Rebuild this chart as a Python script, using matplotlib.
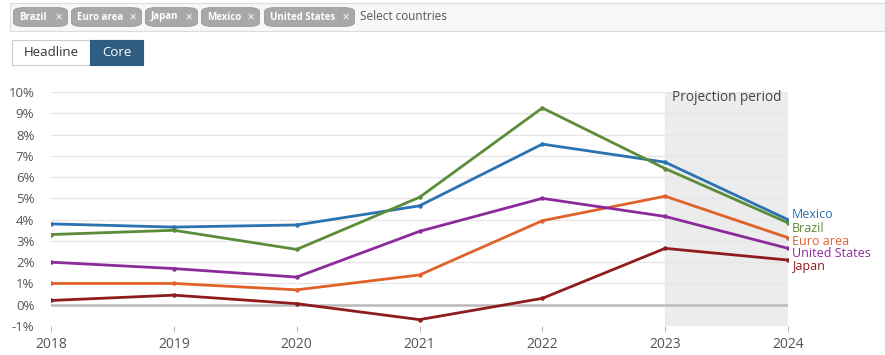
import matplotlib.pyplot as plt
from matplotlib.patches import FancyBboxPatch, Rectangle

# data (core inflation, %)
years = [2018, 2019, 2020, 2021, 2022, 2023, 2024]
mexico = [3.8, 3.65, 3.75, 4.65, 7.55, 6.7, 4.0]
brazil = [3.3, 3.5, 2.6, 5.05, 9.25, 6.4, 3.85]
euro_area = [1.0, 1.0, 0.7, 1.4, 3.95, 5.1, 3.15]
united_states = [2.0, 1.7, 1.3, 3.45, 5.0, 4.15, 2.65]
japan = [0.2, 0.45, 0.05, -0.7, 0.3, 2.65, 2.1]

series = [
    ('Mexico', mexico, '#2a72b0'),
    ('Brazil', brazil, '#5b8c3a'),
    ('Euro area', euro_area, '#e0622a'),
    ('United States', united_states, '#8c2a9c'),
    ('Japan', japan, '#8e1c1c'),
]
chips = ['Brazil', 'Euro area', 'Japan', 'Mexico', 'United States']
yticks = list(range(-1, 11))

W, H = 885, 355
fig = plt.figure(figsize=(W / 100, H / 100), dpi=100)
fig.patch.set_facecolor('white')

def fx(px):
    return px / W

def fy(py):
    return 1 - py / H

# top selector bar
fig.patches.append(Rectangle((fx(10), fy(31)), fx(875), (28) / H, transform=fig.transFigure,
                             facecolor='#f7f7f7', edgecolor='#dddddd', lw=0.8))
chip_x = [(13, 68), (71, 142), (145, 198), (201, 260), (264, 355)]
for name, (x0, x1) in zip(chips, chip_x):
    fig.patches.append(FancyBboxPatch((fx(x0 + 4), fy(25)), fx(x1 - x0 - 8), 16 / H,
                                      boxstyle='round,pad=0.004,rounding_size=0.012',
                                      transform=fig.transFigure, facecolor='#a8a8a8',
                                      edgecolor='#999999', lw=0.6))
    fig.text(fx(x0 + 6), fy(17), name, color='white', fontsize=7, fontweight='bold',
             va='center', ha='left', family='Open Sans')
    fig.text(fx(x1 - 9), fy(17), '×', color='white', fontsize=7, va='center', ha='center')
fig.text(fx(360), fy(17), 'Select countries', color='#555555', fontsize=8.5, va='center',
         family='Open Sans')

# Headline / Core toggle
fig.patches.append(Rectangle((fx(12), fy(65)), fx(78), 25 / H, transform=fig.transFigure,
                             facecolor='white', edgecolor='#cccccc', lw=0.8))
fig.patches.append(Rectangle((fx(90), fy(65)), fx(53), 25 / H, transform=fig.transFigure,
                             facecolor='#2f5d82', edgecolor='#2f5d82', lw=0.8))
fig.text(fx(51), fy(52.5), 'Headline', color='#333333', fontsize=9.5, ha='center',
         va='center', family='Open Sans')
fig.text(fx(116.5), fy(52.5), 'Core', color='white', fontsize=9.5, ha='center', va='center',
         family='Open Sans')

# chart
ax = fig.add_axes([fx(51), fy(326), fx(788 - 51), (326 - 92) / H])
ax.set_xlim(2018, 2024)
ax.set_ylim(-1, 10)
ax.axvspan(2023, 2024, color='#ececec', zorder=0)
for v in yticks:
    ax.axhline(v, color='#e6e6e6', lw=0.9, zorder=1)
ax.axhline(0, color='#bbbbbb', lw=1.8, zorder=1)
ax.text(2023.5, 9.75, 'Projection period', ha='center', va='center', fontsize=9.8,
        color='#444444', family='Open Sans')

for name, vals, col in series:
    ax.plot(years, vals, color=col, lw=2, marker='o', markersize=2.2, zorder=3)

label_y = [4.25, 3.6, 2.95, 2.4, 1.8]
for (name, vals, col), ly in zip(series, label_y):
    ax.text(2024.03, ly, name, color=col, fontsize=9, va='center', ha='left',
            family='Open Sans', clip_on=False)

for s in ax.spines.values():
    s.set_visible(False)
ax.set_xticks(years)
ax.set_xticklabels([str(y) for y in years])
ax.set_yticks(yticks)
ax.set_yticklabels([f'{v}%' for v in yticks])
ax.tick_params(axis='y', length=0, pad=12, labelsize=9.5, labelcolor='#555555')
ax.tick_params(axis='x', length=4, color='#bbbbbb', pad=4, labelsize=10,
               labelcolor='#555555')
for lab in ax.get_xticklabels() + ax.get_yticklabels():
    lab.set_family('Open Sans')

fig.savefig('out.png', dpi=100)
